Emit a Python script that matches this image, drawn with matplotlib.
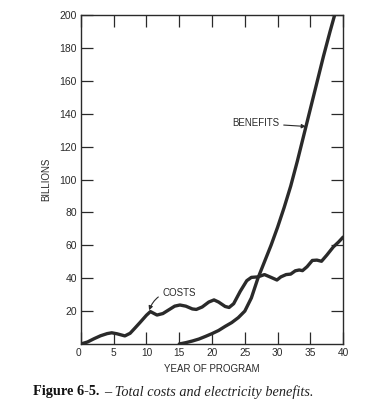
import matplotlib.pyplot as plt

# Costs curve (billions)
cost_years = [0, 0.5, 1, 2, 3, 4, 4.7, 5.5, 6.7, 7.5, 8.2, 9, 10, 10.6, 11.6,
              12.5, 13.3, 14.3, 15.1, 16, 17, 17.6, 18.5, 19.5, 20.3, 21, 22,
              22.6, 23.3, 24.3, 25.3, 26, 27, 28, 29, 29.9, 30.5, 31.3, 32,
              32.7, 33.3, 33.8, 34.5, 35.3, 36, 36.7, 37.5, 38.5, 39.3, 40]
cost_values = [0, 0.6, 1.2, 3.2, 5, 6.3, 6.8, 6.2, 4.9, 6.5, 9.5, 13, 17.5,
               19.7, 17.6, 18.5, 20.5, 23, 23.7, 23, 21.3, 21, 22.5, 25.5,
               26.8, 25.5, 22.8, 22.2, 24.5, 32, 38.5, 40.5, 40.8, 42.2, 40.5,
               38.9, 40.8, 42.2, 42.5, 44.5, 45, 44.6, 47, 50.8, 51, 50.3, 54,
               59, 62, 65]

# Benefits curve
benefit_years = [15, 16, 17, 18, 19, 20, 21, 22, 23, 24, 25, 26, 27, 28, 29,
                 30, 31, 32, 33, 34, 35, 36, 37, 38, 38.7]
benefit_values = [0, 0.8, 1.8, 3, 4.6, 6.3, 8.2, 10.7, 13, 16, 20, 28, 40, 50,
                  60, 71, 83, 96, 111, 127, 143, 159, 175, 190, 200]

x_ticks = [0, 5, 10, 15, 20, 25, 30, 35, 40]
y_ticks = [20, 40, 60, 80, 100, 120, 140, 160, 180, 200]

ink = "#2a2a2a"
plt.rcParams["font.family"] = ["Liberation Sans", "DejaVu Sans"]

fig = plt.figure(figsize=(3.8, 4.09), dpi=100)
ax = fig.add_axes([0.213, 0.159, 0.690, 0.804])

ax.plot(cost_years, cost_values, color=ink, lw=2.4, solid_joinstyle="round",
        solid_capstyle="round")
ax.plot(benefit_years, benefit_values, color=ink, lw=2.4,
        solid_joinstyle="round", solid_capstyle="round")

ax.set_xlim(0, 40)
ax.set_ylim(0, 200)
ax.set_xticks(x_ticks)
ax.set_xticklabels([str(t) for t in x_ticks])
ax.set_yticks(y_ticks)
ax.set_yticklabels([str(t) for t in y_ticks])
ax.tick_params(direction="in", length=8.5, width=0.9, color=ink,
               labelsize=7.3, labelcolor=ink, top=True, right=True, pad=3)
ax.tick_params(axis="y", labelsize=7.5)
ax.get_xticklabels()[0].set_horizontalalignment("right")
for sp in ax.spines.values():
    sp.set_color(ink)
    sp.set_linewidth(1.0)

ax.set_xlabel("YEAR OF PROGRAM", fontsize=7, color=ink, labelpad=4)
ax.set_ylabel("BILLIONS", fontsize=7, color=ink, labelpad=6)

ax.annotate("COSTS", xy=(10.4, 20.5), xytext=(12.4, 31.2), fontsize=7,
            color=ink, va="center", ha="left",
            arrowprops=dict(arrowstyle="-|>", color=ink, lw=0.8,
                            mutation_scale=6, shrinkA=1, shrinkB=0,
                            connectionstyle="arc3,rad=0.4"))
ax.annotate("BENEFITS", xy=(34.3, 132.3), xytext=(30.3, 134.2), fontsize=7,
            color=ink, va="center", ha="right",
            arrowprops=dict(arrowstyle="-|>", color=ink, lw=0.8,
                            mutation_scale=6, shrinkA=1, shrinkB=0))

# Caption: bold lead-in followed by italic text
bold = fig.text(33 / 380, 1 - 392 / 409, "Figure 6-5.", fontsize=10.3,
                fontweight="bold", family="Liberation Serif", color="#111",
                va="center", ha="left")
fig.canvas.draw()
bb = bold.get_window_extent(fig.canvas.get_renderer())
fig.text((bb.x1 + 5) / fig.bbox.width, 1 - 392 / 409,
         "\u2013 Total costs and electricity benefits.", fontsize=10.3,
         fontstyle="italic", family="Liberation Serif", color="#222",
         va="center", ha="left")

fig.savefig("out.png", dpi=100, facecolor="white")
